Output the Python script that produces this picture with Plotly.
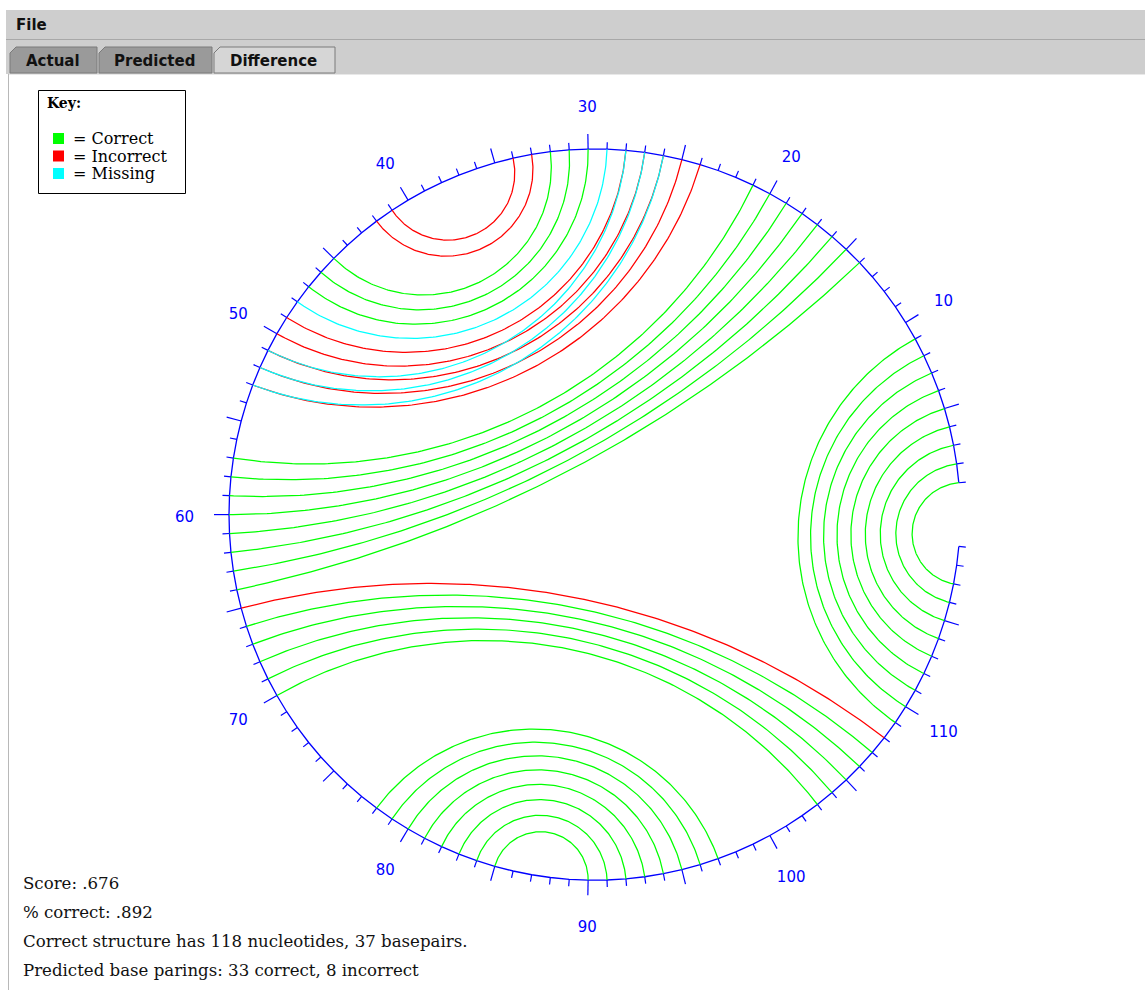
import numpy as np
import plotly.graph_objects as go

# ---------------- data ----------------
N_POS = 119               # positions drawn round the circle
LABEL_EVERY = 10
MAJOR_EVERY = 5

green_i = [1, 2, 3, 4, 5, 6, 7, 8, 9, 14, 15, 16, 17, 18, 19, 20, 21, 30, 31, 32,
           66, 67, 68, 69, 70, 78, 79, 80, 81, 82, 83, 84, 85]
green_j = [117, 116, 115, 114, 113, 112, 111, 110, 109, 64, 63, 62, 61, 60, 59, 58, 57, 47, 46, 45,
           107, 106, 105, 104, 103, 97, 96, 95, 94, 93, 92, 91, 90]
red_i = [24, 25, 26, 27, 28, 33, 34, 65]
red_j = [53, 52, 51, 50, 49, 42, 41, 108]
cyan_i = [26, 27, 28, 29]
cyan_j = [53, 52, 51, 48]

key_labels = ["= Correct", "= Incorrect", "= Missing"]
key_colors = ["#00ff00", "#ff0000", "#00ffff"]
stats_lines = ["Score: .676", "% correct: .892",
               "Correct structure has 118 nucleotides, 37 basepairs.",
               "Predicted base parings: 33 correct, 8 incorrect"]
tab_names = ["Actual", "Predicted", "Difference"]

# ---------------- geometry ----------------
W, H = 1145, 990
CX, CY, R = 594.6, 514.6, 365.6
START_DEG = 5.0
STEP_DEG = 350.0 / 118.0


def theta(k):
    return np.radians(START_DEG + (k - 1) * STEP_DEG)


def pos(k, rad=R):
    t = theta(k)
    return CX + rad * np.cos(t), CY - rad * np.sin(t)


def arc(i, j, n=160):
    a, b = theta(i), theta(j)
    delta = (b - a) % (2 * np.pi)
    if delta <= np.pi:
        mid, D = a + delta / 2, delta
    else:
        mid, D = b + (2 * np.pi - delta) / 2, 2 * np.pi - delta
    pa = np.array([R * np.cos(a), R * np.sin(a)])
    pb = np.array([R * np.cos(b), R * np.sin(b)])
    if abs(D - np.pi) < 1e-4:
        xs = np.linspace(pa[0], pb[0], n)
        ys = np.linspace(pa[1], pb[1], n)
    else:
        d = R / np.cos(D / 2)
        r = R * np.tan(D / 2)
        cc = np.array([d * np.cos(mid), d * np.sin(mid)])
        fa = np.arctan2(pa[1] - cc[1], pa[0] - cc[0])
        fb = np.arctan2(pb[1] - cc[1], pb[0] - cc[0])
        df = (fb - fa + np.pi) % (2 * np.pi) - np.pi
        ts = fa + df * np.linspace(0, 1, n)
        xs = cc[0] + r * np.cos(ts)
        ys = cc[1] + r * np.sin(ts)
    return list(CX + xs), list(CY - ys)


def arcs_trace(ii, jj, color):
    X, Y = [], []
    for i, j in zip(ii, jj):
        x, y = arc(i, j)
        X += x + [None]
        Y += y + [None]
    return go.Scatter(x=X, y=Y, mode="lines", line=dict(color=color, width=1.25),
                      hoverinfo="skip", showlegend=False)


fig = go.Figure()

# circle polygon
ks = np.arange(1, N_POS + 1)
cx_, cy_ = pos(ks)
fig.add_trace(go.Scatter(x=cx_, y=cy_, mode="lines", line=dict(color="#0000ff", width=1.3),
                         hoverinfo="skip", showlegend=False))
# ticks
TX, TY = [], []
for k in ks:
    L = 15 if k % MAJOR_EVERY == 0 else 7
    x0, y0 = pos(k)
    x1, y1 = pos(k, R + L)
    TX += [x0, x1, None]
    TY += [y0, y1, None]
fig.add_trace(go.Scatter(x=TX, y=TY, mode="lines", line=dict(color="#0000ff", width=1.2),
                         hoverinfo="skip", showlegend=False))

# arcs
fig.add_trace(arcs_trace(green_i, green_j, key_colors[0]))
fig.add_trace(arcs_trace(red_i, red_j, key_colors[1]))
fig.add_trace(arcs_trace(cyan_i, cyan_j, key_colors[2]))

# position labels
lab_k = [k for k in ks if k % LABEL_EVERY == 0]
lx, ly = pos(np.array(lab_k), R + 44.5)
fig.add_trace(go.Scatter(x=lx, y=ly + 3.5, mode="text", text=[str(k) for k in lab_k],
                         textfont=dict(family="DejaVu Sans", size=15, color="#0000ff"),
                         hoverinfo="skip", showlegend=False))

shapes = []
annotations = []
# window chrome
shapes.append(dict(type="rect", x0=6, x1=W, y0=10, y1=74, fillcolor="#cecece",
                   line=dict(width=0), layer="below"))
shapes.append(dict(type="line", x0=6, x1=W, y0=39.5, y1=39.5, line=dict(color="#a8a8a8", width=1),
                   layer="below"))
shapes.append(dict(type="line", x0=8, x1=W, y0=74.5, y1=74.5, line=dict(color="#e8e8e8", width=1),
                   layer="below"))
shapes.append(dict(type="line", x0=8.5, x1=8.5, y0=74, y1=H, line=dict(color="#b8b8b8", width=1),
                   layer="below"))
annotations.append(dict(x=14, y=25, text="<b>File</b>", showarrow=False, xanchor="left",
                        yanchor="middle", font=dict(family="DejaVu Sans", size=15, color="#111")))
tab_x = [(10, 97), (99, 212), (214, 335)]
tab_fill = ["#9a9a9a", "#9a9a9a", "#d6d6d6"]
for (x0, x1), name, fc in zip(tab_x, tab_names, tab_fill):
    shapes.append(dict(type="path",
                       path=f"M {x0},73 L {x0},53 L {x0+6},47 L {x1},47 L {x1},73 Z",
                       fillcolor=fc, line=dict(color="#7a7a7a", width=1), layer="below"))
    annotations.append(dict(x=(x0 + x1) / 2 - 1, y=61, text=f"<b>{name}</b>", showarrow=False,
                            xanchor="center", yanchor="middle",
                            font=dict(family="DejaVu Sans", size=15, color="#111")))

# key box
shapes.append(dict(type="rect", x0=38.5, x1=185.5, y0=90.5, y1=193.5, line=dict(color="#000", width=1),
                   fillcolor="white"))
annotations.append(dict(x=45, y=103, text="<b>Key:</b>", showarrow=False, xanchor="left",
                        yanchor="middle", font=dict(family="DejaVu Serif", size=14, color="#000")))
for n, (lab, col) in enumerate(zip(key_labels, key_colors)):
    yc = 138.5 + n * 17.5
    shapes.append(dict(type="rect", x0=53, x1=64, y0=yc - 5.5, y1=yc + 5.5, fillcolor=col,
                       line=dict(width=0)))
    annotations.append(dict(x=71, y=yc, text=lab, showarrow=False, xanchor="left", yanchor="middle",
                            font=dict(family="DejaVu Serif", size=16, color="#000")))

# stats text
for n, s in enumerate(stats_lines):
    annotations.append(dict(x=21, y=883 + n * 29.3, text=s, showarrow=False, xanchor="left",
                            yanchor="middle", font=dict(family="DejaVu Serif", size=16.6, color="#111")))

fig.update_layout(width=W, height=H, margin=dict(l=0, r=0, t=0, b=0),
                  paper_bgcolor="white", plot_bgcolor="white", showlegend=False,
                  xaxis=dict(range=[0, W], visible=False, fixedrange=True),
                  yaxis=dict(range=[H, 0], visible=False, fixedrange=True),
                  shapes=shapes, annotations=annotations)

fig.write_html("out.html", config={"displayModeBar": False},
               post_script="document.body.style.margin='0';document.body.style.overflow='hidden';")
